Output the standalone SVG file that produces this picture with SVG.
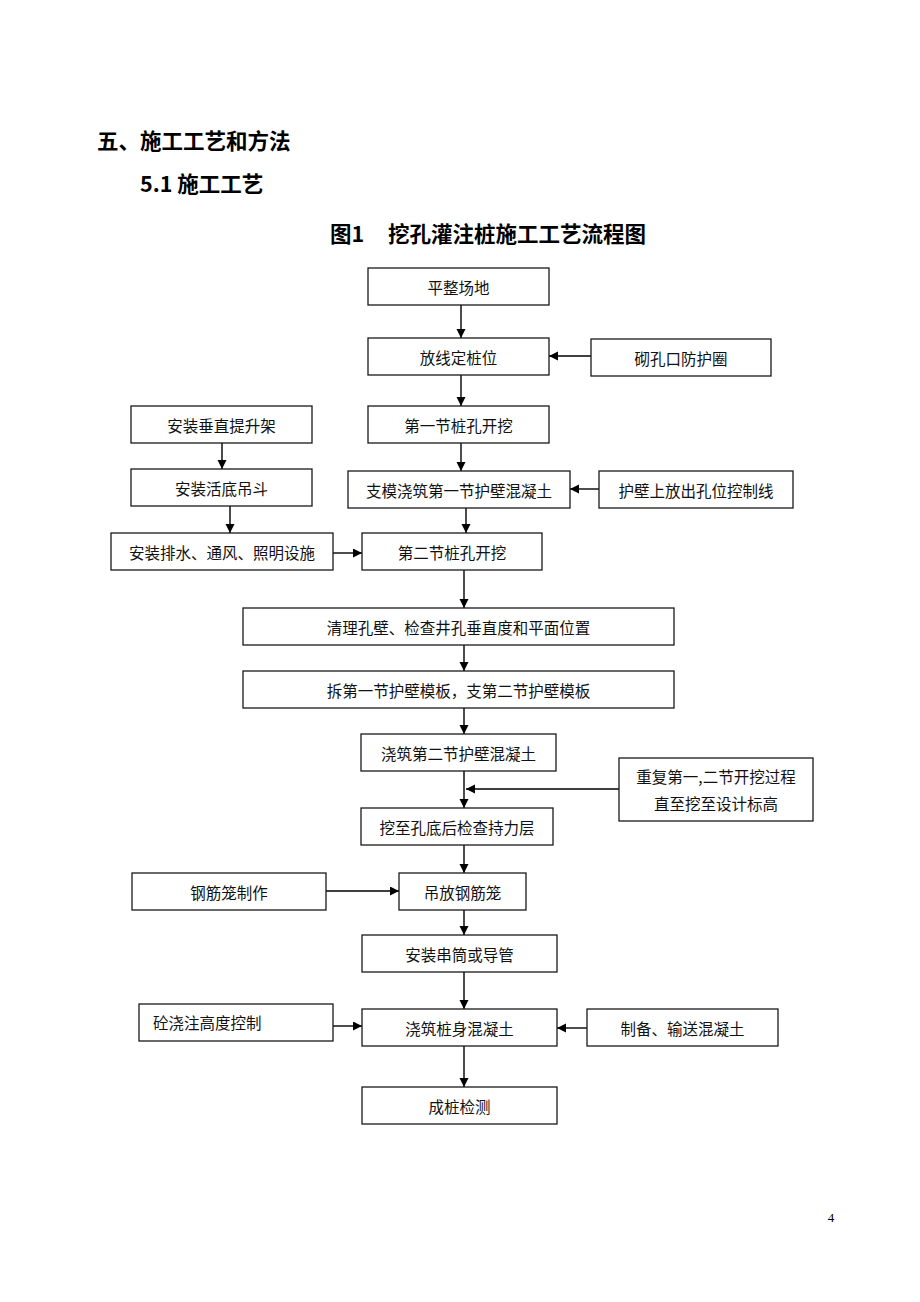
<svg xmlns="http://www.w3.org/2000/svg" width="920" height="1302" viewBox="0 0 920 1302">
<style>
.bg{fill:#fff}
.box{fill:#fff;stroke:#1a1a1a;stroke-width:1.3}
.t{font-family:"Noto Sans CJK SC","Noto Sans",sans-serif;font-size:15.5px;fill:#111;text-anchor:middle;dominant-baseline:central}
.h{font-family:"Noto Sans CJK SC","Noto Sans",sans-serif;font-size:21.5px;font-weight:bold;fill:#000}
.c{stroke:#000;stroke-width:1.4;fill:none;marker-end:url(#ah)}
</style>
<defs>
<marker id="ah" markerUnits="userSpaceOnUse" markerWidth="10" markerHeight="10" refX="9" refY="4.5" orient="auto">
<path d="M0,0 L9,4.5 L0,9 z" fill="#000"/>
</marker>
</defs>
<rect class="bg" x="0" y="0" width="920" height="1302"/>
<g id="headings">
<text class="h" x="97" y="149">五、施工工艺和方法</text>
<text class="h" x="140" y="192">5.1 施工工艺</text>
<text class="h" x="330" y="242">图1</text>
<text class="h" x="388" y="242">挖孔灌注桩施工工艺流程图</text>
</g>
<g id="connectors">
<line class="c" x1="461" y1="305" x2="461" y2="338"/>
<line class="c" x1="591" y1="356" x2="549" y2="356"/>
<line class="c" x1="461" y1="375" x2="461" y2="406"/>
<line class="c" x1="461" y1="443" x2="461" y2="471"/>
<line class="c" x1="599" y1="489" x2="570" y2="489"/>
<line class="c" x1="222" y1="443" x2="222" y2="469"/>
<line class="c" x1="230" y1="506" x2="230" y2="533"/>
<line class="c" x1="333" y1="553" x2="362" y2="553"/>
<line class="c" x1="466" y1="508" x2="466" y2="533"/>
<line class="c" x1="464" y1="570" x2="464" y2="608"/>
<line class="c" x1="464" y1="645" x2="464" y2="671"/>
<line class="c" x1="464" y1="708" x2="464" y2="734"/>
<line class="c" x1="464" y1="771" x2="464" y2="808"/>
<line class="c" x1="619" y1="789" x2="466" y2="789"/>
<line class="c" x1="464" y1="845" x2="464" y2="873"/>
<line class="c" x1="326" y1="891" x2="399" y2="891"/>
<line class="c" x1="464" y1="910" x2="464" y2="935"/>
<line class="c" x1="464" y1="972" x2="464" y2="1009"/>
<line class="c" x1="333" y1="1026" x2="362" y2="1026"/>
<line class="c" x1="587" y1="1028" x2="557" y2="1028"/>
<line class="c" x1="464" y1="1046" x2="464" y2="1087"/>
</g>
<g id="n1"><rect class="box" x="368" y="268" width="181" height="37"/><text class="t" x="458.5" y="286.5">平整场地</text></g>
<g id="n2"><rect class="box" x="368" y="338" width="181" height="37"/><text class="t" x="458.5" y="356.5">放线定桩位</text></g>
<g id="n3"><rect class="box" x="591" y="339" width="180" height="37"/><text class="t" x="681" y="357.5">砌孔口防护圈</text></g>
<g id="n4"><rect class="box" x="368" y="406" width="181" height="37"/><text class="t" x="458.5" y="424.5">第一节桩孔开挖</text></g>
<g id="n5"><rect class="box" x="131" y="406" width="181" height="37"/><text class="t" x="221.5" y="424.5">安装垂直提升架</text></g>
<g id="n6"><rect class="box" x="131" y="469" width="181" height="37"/><text class="t" x="221.5" y="487.5">安装活底吊斗</text></g>
<g id="n7"><rect class="box" x="348" y="471" width="222" height="37"/><text class="t" x="459" y="489.5">支模浇筑第一节护壁混凝土</text></g>
<g id="n8"><rect class="box" x="599" y="471" width="194" height="37"/><text class="t" x="696" y="489.5">护壁上放出孔位控制线</text></g>
<g id="n9"><rect class="box" x="111" y="533" width="222" height="37"/><text class="t" x="222" y="551.5">安装排水、通风、照明设施</text></g>
<g id="n10"><rect class="box" x="362" y="533" width="180" height="37"/><text class="t" x="452" y="551.5">第二节桩孔开挖</text></g>
<g id="n11"><rect class="box" x="243" y="608" width="431" height="37"/><text class="t" x="458.5" y="626.5">清理孔壁、检查井孔垂直度和平面位置</text></g>
<g id="n12"><rect class="box" x="243" y="671" width="431" height="37"/><text class="t" x="458.5" y="689.5">拆第一节护壁模板，支第二节护壁模板</text></g>
<g id="n13"><rect class="box" x="361" y="734" width="195" height="37"/><text class="t" x="458.5" y="752.5">浇筑第二节护壁混凝土</text></g>
<g id="n14"><rect class="box" x="619" y="758" width="194" height="63"/><text class="t" x="716" y="776">重复第一,二节开挖过程</text><text class="t" x="716" y="803">直至挖至设计标高</text></g>
<g id="n15"><rect class="box" x="361" y="808" width="192" height="37"/><text class="t" x="457" y="826.5">挖至孔底后检查持力层</text></g>
<g id="n16"><rect class="box" x="132" y="873" width="194" height="37"/><text class="t" x="229" y="891.5">钢筋笼制作</text></g>
<g id="n17"><rect class="box" x="399" y="873" width="127" height="37"/><text class="t" x="462.5" y="891.5">吊放钢筋笼</text></g>
<g id="n18"><rect class="box" x="362" y="935" width="195" height="37"/><text class="t" x="459.5" y="953.5">安装串筒或导管</text></g>
<g id="n19"><rect class="box" x="139" y="1004" width="194" height="37"/><text class="t" x="153" y="1021.5" style="text-anchor:start">砼浇注高度控制</text></g>
<g id="n20"><rect class="box" x="362" y="1009" width="195" height="37"/><text class="t" x="459.5" y="1027.5">浇筑桩身混凝土</text></g>
<g id="n21"><rect class="box" x="587" y="1009" width="191" height="37"/><text class="t" x="682.5" y="1027.5">制备、输送混凝土</text></g>
<g id="n22"><rect class="box" x="362" y="1087" width="195" height="37"/><text class="t" x="459.5" y="1105.5">成桩检测</text></g>
<g id="page"><text x="831" y="1222" style="font-family:'Liberation Serif',serif;font-size:13px;fill:#000;text-anchor:middle">4</text></g>
</svg>
